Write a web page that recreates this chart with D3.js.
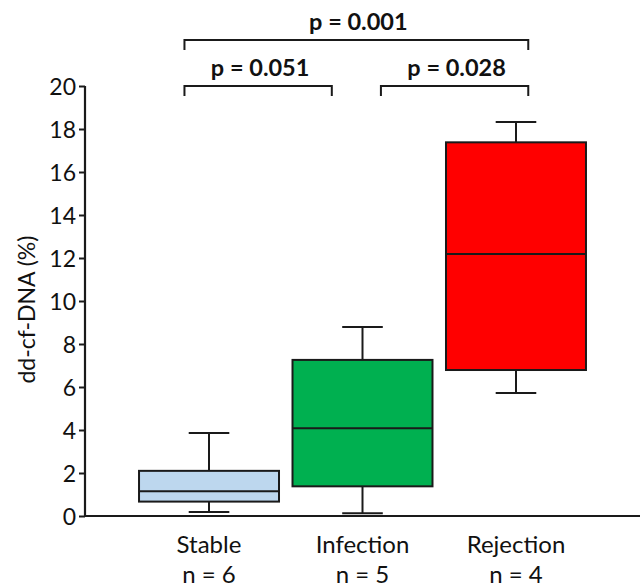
<!DOCTYPE html>
<html>
<head>
<meta charset="utf-8">
<script src="https://cdn.jsdelivr.net/npm/d3@7"></script>
<style>
  body { margin: 0; background: #fff; }
  text { font-family: Lato, "Open Sans", sans-serif; fill: #111; }
</style>
</head>
<body>
<svg id="chart"></svg>
<script>
// box plot values
var categories = ["Stable", "Infection", "Rejection"];
var nLabels = ["n = 6", "n = 5", "n = 4"];
var whiskerLow = [0.19, 0.13, 5.72];
var q1 = [0.67, 1.38, 6.79];
var median = [1.15, 4.08, 12.19];
var q3 = [2.10, 7.26, 17.38];
var whiskerHigh = [3.86, 8.79, 18.33];
var boxColors = ["#bdd7ee", "#00b050", "#ff0000"];

var yTicks = [0, 2, 4, 6, 8, 10, 12, 14, 16, 18, 20];

// significance brackets (ends in category-index units, level in y units)
var pLabels = ["p = 0.051", "p = 0.028", "p = 0.001"];
var bracketFrom = [-0.16, 1.12, -0.16];
var bracketTo = [0.80, 2.08, 2.08];
var bracketLevel = [20, 20, 22.14];

var margin = { top: 86, right: 0, bottom: 71, left: 85 },
	width = 640 - margin.left - margin.right,
	height = 587 - margin.top - margin.bottom;

var svg = d3.select('#chart')
	.attr('width', 640)
	.attr('height', 587);
var g = svg.append('g')
	.attr('transform', 'translate(' + margin.left + ',' + margin.top + ')');

var x = d3.scaleBand()
	.domain(categories)
	.range([0, width])
	.paddingInner(0.088)
	.paddingOuter(0.352);

var y = d3.scaleLinear()
	.domain([0, 20])
	.range([height, 0]);

// index -> pixel, for the brackets
var xi = d3.scaleLinear()
	.domain([0, categories.length - 1])
	.range([x(categories[0]) + x.bandwidth() / 2,
		x(categories[categories.length - 1]) + x.bandwidth() / 2]);

var rows = categories.map(function(c, i) {
	return { cat: c, n: nLabels[i], lo: whiskerLow[i], q1: q1[i], med: median[i],
		q3: q3[i], hi: whiskerHigh[i], color: boxColors[i] };
});

/* axes */
var yAxis = d3.axisLeft(y).tickValues(yTicks).tickSize(6).tickPadding(3);
var yG = g.append('g').call(yAxis);
yG.select('.domain').attr('d', 'M0,' + y(20) + 'V' + height).attr('stroke', '#1a1a1a').attr('stroke-width', 2.2);
yG.selectAll('.tick line').attr('stroke', '#1a1a1a').attr('stroke-width', 2);
yG.selectAll('.tick text')
	.style('font-family', 'Lato, sans-serif')
	.style('font-size', '23px')
	.attr('dy', '0.36em');

g.append('line')
	.attr('x1', 0).attr('x2', width)
	.attr('y1', height).attr('y2', height)
	.attr('stroke', '#1a1a1a').attr('stroke-width', 2.2);

svg.append('text')
	.attr('transform', 'translate(35,' + (margin.top + y(9.6)) + ') rotate(-90)')
	.attr('text-anchor', 'middle')
	.style('font-size', '23px')
	.text('dd-cf-DNA (%)');

/* boxes */
var box = g.selectAll('.box')
	.data(rows)
	.enter().append('g')
	.attr('class', 'box')
	.attr('transform', function(d) { return 'translate(' + x(d.cat) + ',0)'; });

var bw = x.bandwidth(), cap = bw * 0.145;

box.append('line')
	.attr('x1', bw / 2).attr('x2', bw / 2)
	.attr('y1', function(d) { return y(d.lo); })
	.attr('y2', function(d) { return y(d.q1); })
	.attr('stroke', '#1a1a1a').attr('stroke-width', 2);
box.append('line')
	.attr('x1', bw / 2).attr('x2', bw / 2)
	.attr('y1', function(d) { return y(d.q3); })
	.attr('y2', function(d) { return y(d.hi); })
	.attr('stroke', '#1a1a1a').attr('stroke-width', 2);
box.append('line')
	.attr('x1', bw / 2 - cap).attr('x2', bw / 2 + cap)
	.attr('y1', function(d) { return y(d.lo); })
	.attr('y2', function(d) { return y(d.lo); })
	.attr('stroke', '#1a1a1a').attr('stroke-width', 2);
box.append('line')
	.attr('x1', bw / 2 - cap).attr('x2', bw / 2 + cap)
	.attr('y1', function(d) { return y(d.hi); })
	.attr('y2', function(d) { return y(d.hi); })
	.attr('stroke', '#1a1a1a').attr('stroke-width', 2);

box.append('rect')
	.attr('x', 0)
	.attr('width', bw)
	.attr('y', function(d) { return y(d.q3); })
	.attr('height', function(d) { return y(d.q1) - y(d.q3); })
	.attr('fill', function(d) { return d.color; })
	.attr('stroke', '#1a1a1a').attr('stroke-width', 2);

box.append('line')
	.attr('x1', 0).attr('x2', bw)
	.attr('y1', function(d) { return y(d.med); })
	.attr('y2', function(d) { return y(d.med); })
	.attr('stroke', '#1a1a1a').attr('stroke-width', 2);

/* category labels */
box.append('text')
	.attr('x', bw / 2).attr('y', height + 37)
	.attr('text-anchor', 'middle')
	.style('font-size', '24px')
	.text(function(d) { return d.cat; });
box.append('text')
	.attr('x', bw / 2).attr('y', height + 67)
	.attr('text-anchor', 'middle')
	.style('font-size', '24px')
	.text(function(d) { return d.n; });

/* significance brackets */
var br = g.selectAll('.bracket')
	.data(pLabels.map(function(p, i) {
		return { p: p, a: bracketFrom[i], b: bracketTo[i], lv: bracketLevel[i] };
	}))
	.enter().append('g')
	.attr('class', 'bracket');

br.append('path')
	.attr('d', function(d) {
		var yy = y(d.lv);
		return 'M' + xi(d.a) + ',' + (yy + 10) + 'V' + yy + 'H' + xi(d.b) + 'V' + (yy + 10);
	})
	.attr('fill', 'none')
	.attr('stroke', '#1a1a1a').attr('stroke-width', 2);

br.append('text')
	.attr('x', function(d) { return (xi(d.a) + xi(d.b)) / 2 + 2; })
	.attr('y', function(d) { return y(d.lv) - 10; })
	.attr('text-anchor', 'middle')
	.style('font-size', '23.5px')
	.style('font-weight', 'bold')
	.text(function(d) { return d.p; });
</script>
</body>
</html>
